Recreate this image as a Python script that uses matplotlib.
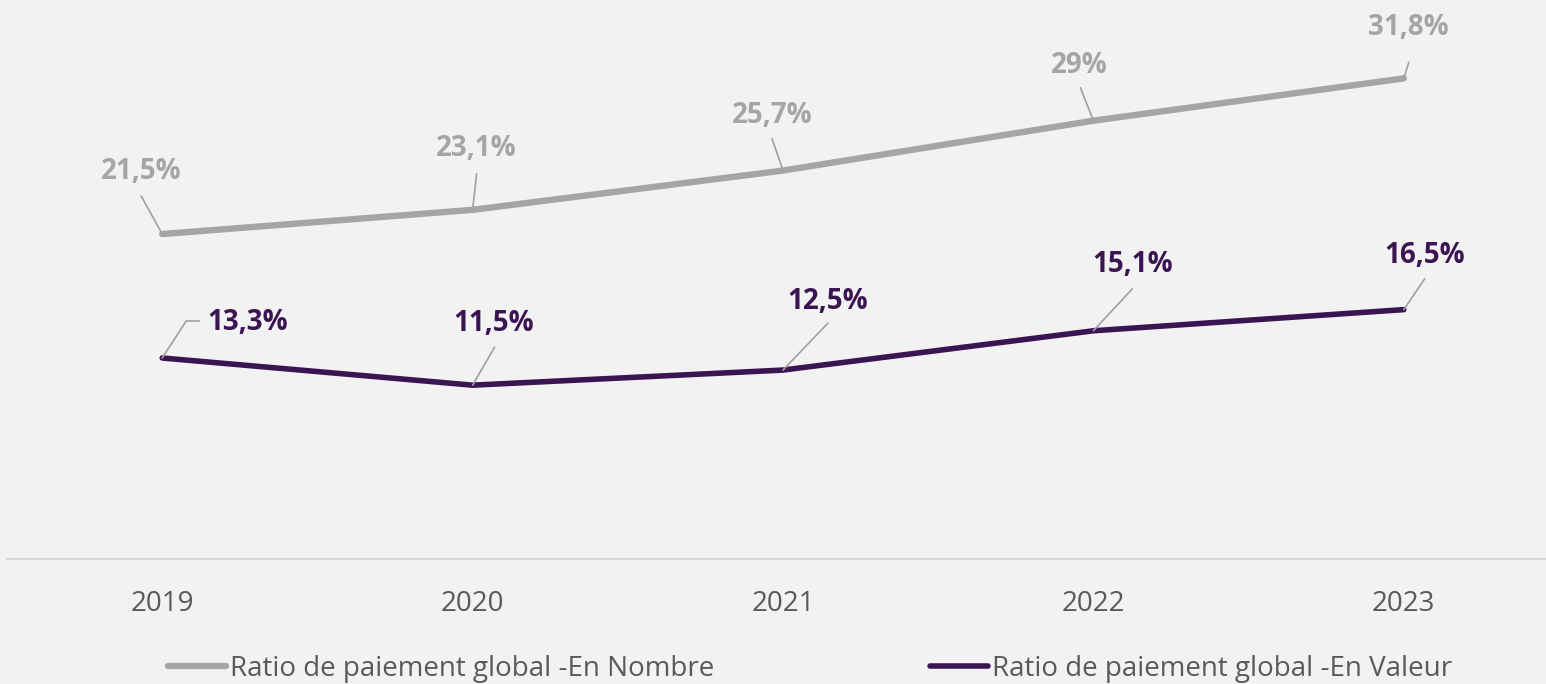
import matplotlib.pyplot as plt

plt.rcParams['font.family'] = ['Open Sans', 'DejaVu Sans']

# Data
years = ['2019', '2020', '2021', '2022', '2023']
nombre = [21.5, 23.1, 25.7, 29.0, 31.8]
valeur = [13.3, 11.5, 12.5, 15.1, 16.5]
nombre_labels = ['21,5%', '23,1%', '25,7%', '29%', '31,8%']
valeur_labels = ['13,3%', '11,5%', '12,5%', '15,1%', '16,5%']

# label / leader offsets in pixels (dx, dy) from each point
nombre_text_off = [(-21, 63), (4, 61), (-11, 55), (-14, 55), (5, 51)]
nombre_lead_off = [(-21, 38), (4, 36), (-11, 32), (-13, 33), (5, 16)]
valeur_text_off = [(85, 35), (21, 62), (45, 69), (39, 66), (21, 54)]
valeur_lead_off = [(37, 37), (22, 38), (45, 47), (39, 42), (21, 31)]

gray = '#a5a5a5'
purple = '#3b1452'
lead_col = '#a0a0a0'
bg = '#f2f2f2'
fs = 20

fig = plt.figure(figsize=(15.46, 6.84), dpi=100, facecolor=bg)
ax = fig.add_axes([7 / 1546, 125 / 684, 1552 / 1546, 529 / 684], facecolor=bg)

x = list(range(len(years)))
l1, = ax.plot(x, nombre, color=gray, lw=4.6, solid_capstyle='round',
              label='Ratio de paiement global -En Nombre')
l2, = ax.plot(x, valeur, color=purple, lw=4.0, solid_capstyle='round',
              label='Ratio de paiement global -En Valeur')

def add_labels(vals, labels, text_off, lead_off, color, first_elbow=False):
    for i, (v, lab) in enumerate(zip(vals, labels)):
        cs = 'arc3'
        if first_elbow and i == 0:
            cs = 'angle,angleA=0,angleB=57,rad=0'
        ax.annotate('', xy=(i, v), xytext=lead_off[i], textcoords='offset pixels',
                    arrowprops=dict(arrowstyle='-', color=lead_col, lw=1.2,
                                    shrinkA=0, shrinkB=0, connectionstyle=cs))
        ax.annotate(lab, xy=(i, v), xytext=text_off[i], textcoords='offset pixels',
                    ha='center', va='center', fontsize=fs, fontweight='bold',
                    color=color)

add_labels(nombre, nombre_labels, nombre_text_off, nombre_lead_off, gray)
add_labels(valeur, valeur_labels, valeur_text_off, valeur_lead_off, purple, first_elbow=True)

ax.set_xlim(-0.5, 4.5)
ax.set_ylim(0, 35)
ax.set_xticks(x)
ax.set_xticklabels(years, fontsize=fs, color='#595959')
ax.tick_params(axis='x', length=0, pad=22)
ax.set_yticks([])
for s in ['top', 'right', 'left']:
    ax.spines[s].set_visible(False)
ax.spines['bottom'].set_color('#d9d9d9')
ax.spines['bottom'].set_linewidth(1.5)

# two legend entries placed like the original
for h, xpos in [(l1, 168 / 1546), (l2, 930 / 1546)]:
    fig.legend(handles=[h], loc='center left', bbox_to_anchor=(xpos, 0.022),
               frameon=False, fontsize=fs, handlelength=2.1, handletextpad=0.12,
               borderpad=0, borderaxespad=0, labelcolor='#595959')

fig.savefig('out.png', dpi=100, facecolor=bg)
